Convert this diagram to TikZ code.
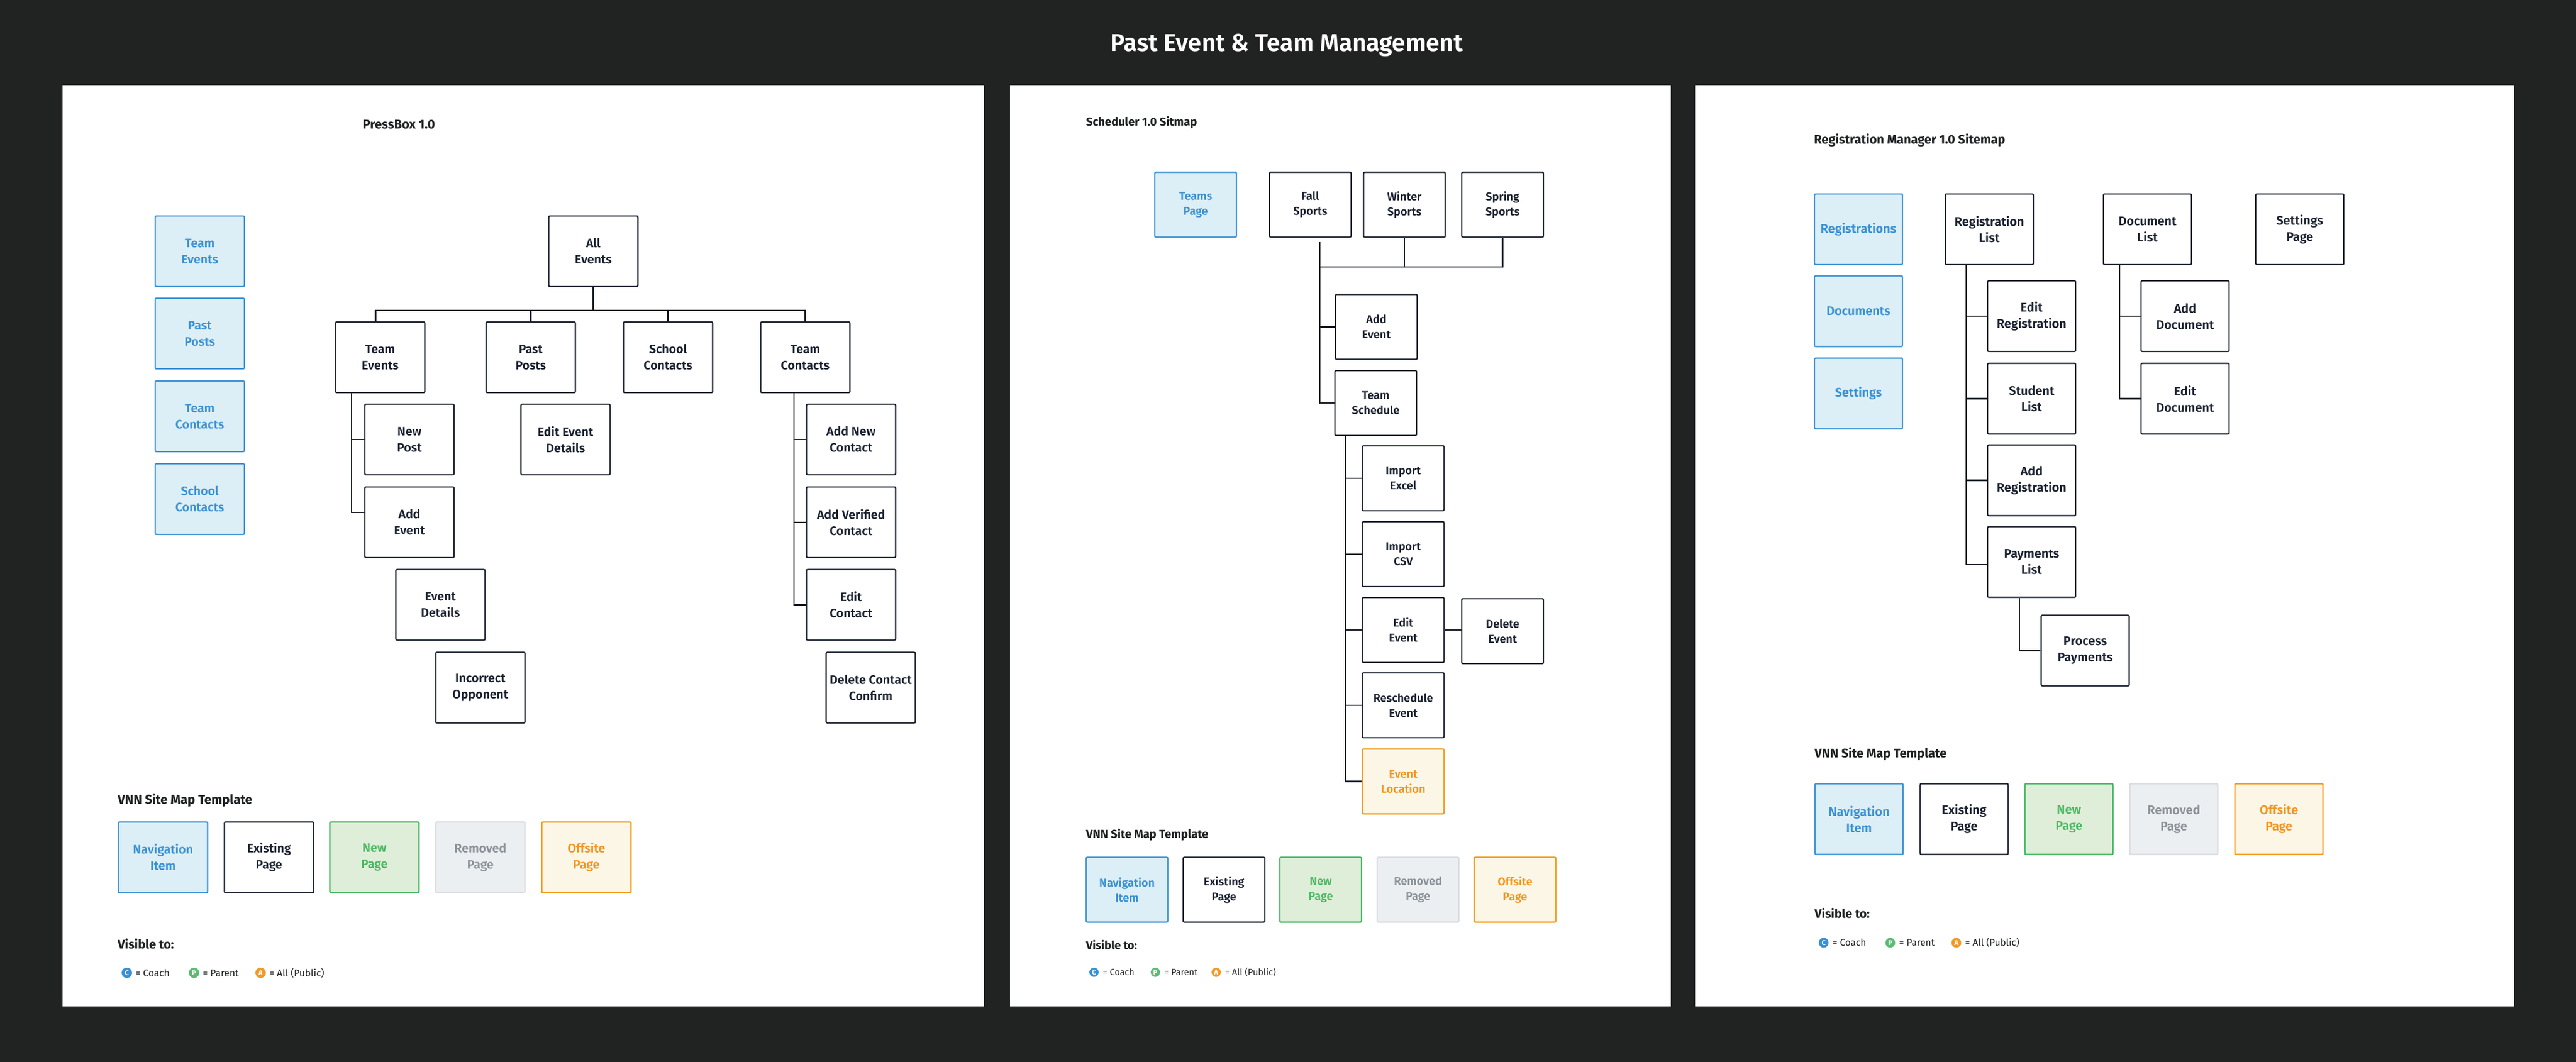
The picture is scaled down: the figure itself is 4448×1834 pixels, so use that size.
\documentclass[tikz,border=0pt]{standalone}
\usepackage{fontspec}
\setmainfont{Fira Sans}[UprightFont={* SemiBold},BoldFont={* Bold}]
\newfontfamily\regfont{Fira Sans}
\usetikzlibrary{calc}
\definecolor{bgdark}{HTML}{212323}
\definecolor{navline}{HTML}{3A91D3}
\definecolor{navfill}{HTML}{DCEEF6}
\definecolor{navtext}{HTML}{3A91D3}
\definecolor{darkline}{HTML}{19202D}
\definecolor{darktext}{HTML}{1B2231}
\definecolor{greenline}{HTML}{3DB55E}
\definecolor{greenfill}{HTML}{DFEED8}
\definecolor{greentext}{HTML}{4CB863}
\definecolor{remline}{HTML}{D8DCE1}
\definecolor{remfill}{HTML}{ECEFF1}
\definecolor{remtext}{HTML}{8B9299}
\definecolor{offline}{HTML}{F5960F}
\definecolor{offfill}{HTML}{FCF6E7}
\definecolor{offtext}{HTML}{F2951D}
\definecolor{coachc}{HTML}{3A91D3}
\definecolor{parentc}{HTML}{5BBC74}
\definecolor{allc}{HTML}{F29A27}
\definecolor{titletext}{HTML}{1F2222}
\definecolor{connc}{HTML}{151A24}
\tikzset{
  pg/.style={draw, rounded corners=1pt, line width=1.1pt, align=center, inner sep=0pt},
  bigL/.style={minimum width=77pt, minimum height=61pt, font=\fontsize{10.6}{14}\selectfont},
  bigR/.style={minimum width=76pt, minimum height=61pt, font=\fontsize{10.8}{14}\selectfont},
  midM/.style={minimum width=70.5pt, minimum height=56pt, font=\fontsize{9.8}{13}\selectfont},
  navb/.style={pg, draw=navline, fill=navfill, text=navtext},
  exist/.style={pg, draw=darkline, fill=white, text=darktext},
  newp/.style={pg, draw=greenline, fill=greenfill, text=greentext},
  remp/.style={pg, draw=remline, fill=remfill, text=remtext},
  offp/.style={pg, draw=offline, fill=offfill, text=offtext},
  conn/.style={draw=connc, line width=1.05pt},
  ttl/.style={anchor=base west, text=titletext, inner sep=0pt, font=\bfseries},
  vis/.style={anchor=base west, text=titletext, inner sep=0pt},
  dotc/.style={circle, inner sep=0pt, text=white},
}
% legend boxes: prefix, size style, y, five x centres
\newcommand\legendboxes[8]{%
  \node[navb,#2] (#1nav) at (#4,#3) {Navigation\\Item};
  \node[exist,#2] (#1ex) at (#5,#3) {Existing\\Page};
  \node[newp,#2] (#1new) at (#6,#3) {New\\Page};
  \node[remp,#2] (#1rem) at (#7,#3) {Removed\\Page};
  \node[offp,#2] (#1off) at (#8,#3) {Offsite\\Page};
}
% visibility row: prefix, circle y, baseline y, circle size, font size, xC, xP, xA  (text offset 15)
\newcommand\visrow[8]{%
  \node[dotc, fill=coachc, minimum size=#4, font=\fontsize{6}{6}\selectfont\bfseries] (#1c) at (#6,#2) {C};
  \node[dotc, fill=parentc, minimum size=#4, font=\fontsize{6}{6}\selectfont\bfseries] (#1p) at (#7,#2) {P};
  \node[dotc, fill=allc, minimum size=#4, font=\fontsize{6}{6}\selectfont\bfseries] (#1a) at (#8,#2) {A};
  \node[vis, font=\regfont\fontsize{#5}{#5}\selectfont] (#1ct) at ($(#6,#3)+(15,0)$) {= Coach};
  \node[vis, font=\regfont\fontsize{#5}{#5}\selectfont] (#1pt) at ($(#7,#3)+(15,0)$) {= Parent};
  \node[vis, font=\regfont\fontsize{#5}{#5}\selectfont] (#1at) at ($(#8,#3)+(15,0)$) {= All (Public)};
}
\begin{document}
\begin{tikzpicture}[x=0.5pt,y=-0.5pt]
\fill[bgdark] (0,0) rectangle (4448,1834);
\useasboundingbox (0,0) rectangle (4448,1834);
\node[anchor=base, text=white, inner sep=0pt, font=\fontsize{21}{21}\selectfont] (title) at (2222,89) {Past Event \& Team Management};
% panels
\fill[white] (108,147) rectangle (1699,1738);
\fill[white] (1744,147) rectangle (2885,1738);
\fill[white] (2927,147) rectangle (4341,1738);

% ---------------- Left panel: PressBox ----------------
\node[ttl, font=\bfseries\fontsize{11}{11}\selectfont] (pbTitle) at (626,223) {PressBox 1.0};
\node[navb,bigL] (lnTE) at (345,434) {Team\\Events};
\node[navb,bigL] (lnPP) at (345,576) {Past\\Posts};
\node[navb,bigL] (lnTC) at (345,719) {Team\\Contacts};
\node[navb,bigL] (lnSC) at (345,862) {School\\Contacts};
\node[exist,bigL] (allEv) at (1024.5,434) {All\\Events};
\node[exist,bigL] (teamEv) at (656.5,617) {Team\\Events};
\node[exist,bigL] (pastP) at (916.5,617) {Past\\Posts};
\node[exist,bigL] (schoolC) at (1153.5,617) {School\\Contacts};
\node[exist,bigL] (teamC) at (1390.5,617) {Team\\Contacts};
\node[exist,bigL] (newPost) at (707,759) {New\\Post};
\node[exist,bigL] (addEv) at (707,902) {Add\\Event};
\node[exist,bigL] (evDet) at (760.5,1044.5) {Event\\Details};
\node[exist,bigL] (incOpp) at (829.5,1187.5) {Incorrect\\Opponent};
\node[exist,bigL] (editEvD) at (976.5,759) {Edit Event\\Details};
\node[exist,bigL] (addNC) at (1469.5,759) {Add New\\Contact};
\node[exist,bigL] (addVC) at (1469.5,902) {Add Verified\\Contact};
\node[exist,bigL] (editC) at (1469.5,1044.5) {Edit\\Contact};
\node[exist,bigL] (delCC) at (1503.5,1187.5) {Delete Contact\\Confirm};

\draw[conn] (allEv.south) -- ++(0,40) coordinate (busA);
\draw[conn] ($(teamEv.north)+(-8,0)$) |- (teamC.north |- busA) -- (teamC.north);
\draw[conn] (pastP.north) -- (pastP.north |- busA);
\draw[conn] (schoolC.north) -- (schoolC.north |- busA);
\coordinate (teS) at ($(teamEv.south west)+(28.5,0)$);
\draw[conn] (teS) |- (newPost.west);
\draw[conn] (teS) |- ($(addEv.west)+(0,-17)$);
\coordinate (tcS) at ($(teamC.south west)+(58.5,0)$);
\draw[conn] (tcS) |- (addNC.west);
\draw[conn] (tcS) |- (addVC.west);
\draw[conn] (tcS) |- (editC.west);

\node[ttl, font=\bfseries\fontsize{11}{11}\selectfont] (lLegT) at (203,1388) {VNN Site Map Template};
\legendboxes{lL}{bigL}{1480.5}{281.5}{464.5}{646.5}{829.5}{1012.5}
\node[ttl, font=\bfseries\fontsize{10.8}{10.8}\selectfont] (lVis) at (203,1638) {Visible to:};
\visrow{lV}{1680}{1686}{9pt}{8.4}{219}{335}{450}

% ---------------- Middle panel: Scheduler ----------------
\node[ttl, font=\bfseries\fontsize{10}{10}\selectfont] (scTitle) at (1875,218) {Scheduler 1.0 Sitmap};
\node[navb,midM] (teamsPage) at (2064.5,353.5) {Teams\\Page};
\node[exist,midM] (fall) at (2262.5,353.5) {Fall\\Sports};
\node[exist,midM] (winter) at (2425,353.5) {Winter\\Sports};
\node[exist,midM] (spring) at (2594.5,353.5) {Spring\\Sports};
\node[exist,midM] (addEvM) at (2376.5,564.5) {Add\\Event};
\node[exist,midM] (teamSched) at (2375.5,696) {Team\\Schedule};
\node[exist,midM] (impX) at (2423,826) {Import\\Excel};
\node[exist,midM] (impC) at (2423,957) {Import\\CSV};
\node[exist,midM] (editEvM) at (2423,1088) {Edit\\Event};
\node[exist,midM] (delEv) at (2594.5,1090) {Delete\\Event};
\node[exist,midM] (resched) at (2423,1218) {Reschedule\\Event};
\node[offp,midM] (evLoc) at (2423,1349.5) {Event\\Location};

\coordinate (fS) at ($(fall.south)+(16.5,7)$);
\draw[conn] (fS) |- (teamSched.west);
\draw[conn] (fS |- addEvM.west) -- (addEvM.west);
\draw[conn] (winter.south) -- ++(0,50) coordinate (busW);
\draw[conn] (spring.south) |- (fS |- busW);
\coordinate (tsS) at ($(teamSched.south west)+(19,0)$);
\draw[conn] (tsS) |- (evLoc.west);
\draw[conn] (tsS |- impX.west) -- (impX.west);
\draw[conn] (tsS |- impC.west) -- (impC.west);
\draw[conn] (tsS |- editEvM.west) -- (editEvM.west);
\draw[conn] (tsS |- resched.west) -- (resched.west);
\draw[conn] (editEvM.east) -- (editEvM.east -| delEv.west);

\node[ttl, font=\bfseries\fontsize{10}{10}\selectfont] (mLegT) at (1875,1447) {VNN Site Map Template};
\legendboxes{mL}{midM}{1536.5}{1946}{2113.5}{2280.5}{2448.5}{2616}
\node[ttl, font=\bfseries\fontsize{9.8}{9.8}\selectfont] (mVis) at (1875,1639) {Visible to:};
\visrow{mV}{1679}{1684}{8pt}{7.8}{1889}{1995}{2100}

% ---------------- Right panel: Registration Manager ----------------
\node[ttl, font=\bfseries\fontsize{10.8}{10.8}\selectfont] (rmTitle) at (3132,249) {Registration Manager 1.0 Sitemap};
\node[navb,bigR] (rnReg) at (3209,396) {Registrations};
\node[navb,bigR] (rnDoc) at (3209,537.5) {Documents};
\node[navb,bigR] (rnSet) at (3209,679.5) {Settings};
\node[exist,bigR] (regList) at (3435,396) {Registration\\List};
\node[exist,bigR] (docList) at (3708,396) {Document\\List};
\node[exist,bigR] (setPage) at (3971,396) {Settings\\Page};
\node[exist,bigR] (editReg) at (3508,546) {Edit\\Registration};
\node[exist,bigR] (stuList) at (3508,688.5) {Student\\List};
\node[exist,bigR] (addReg) at (3508,829.5) {Add\\Registration};
\node[exist,bigR] (payList) at (3508,970.5) {Payments\\List};
\node[exist,bigR] (procPay) at (3600.5,1123.5) {Process\\Payments};
\node[exist,bigR] (addDoc) at (3773,546) {Add\\Document};
\node[exist,bigR] (editDoc) at (3773,688.5) {Edit\\Document};

\coordinate (rlS) at ($(regList.south west)+(37,0)$);
\draw[conn] (rlS) |- ($(payList.west)+(0,4.5)$);
\draw[conn] (rlS |- editReg.west) -- (editReg.west);
\draw[conn] (rlS |- stuList.west) -- (stuList.west);
\draw[conn] (rlS |- addReg.west) -- (addReg.west);
\coordinate (plS) at ($(payList.south west)+(56,0)$);
\draw[conn] (plS) |- (procPay.west);
\coordinate (dlS) at ($(docList.south west)+(29,0)$);
\draw[conn] (dlS) |- (editDoc.west);
\draw[conn] (dlS |- addDoc.west) -- (addDoc.west);

\node[ttl, font=\bfseries\fontsize{10.8}{10.8}\selectfont] (rLegT) at (3133,1308) {VNN Site Map Template};
\legendboxes{rL}{bigR}{1414.5}{3210}{3391.5}{3572.5}{3753.5}{3935}
\node[ttl, font=\bfseries\fontsize{10.6}{10.6}\selectfont] (rVis) at (3133,1585) {Visible to:};
\visrow{rV}{1628}{1633}{8.5pt}{8.3}{3149}{3264}{3378}
\end{tikzpicture}
\end{document}
